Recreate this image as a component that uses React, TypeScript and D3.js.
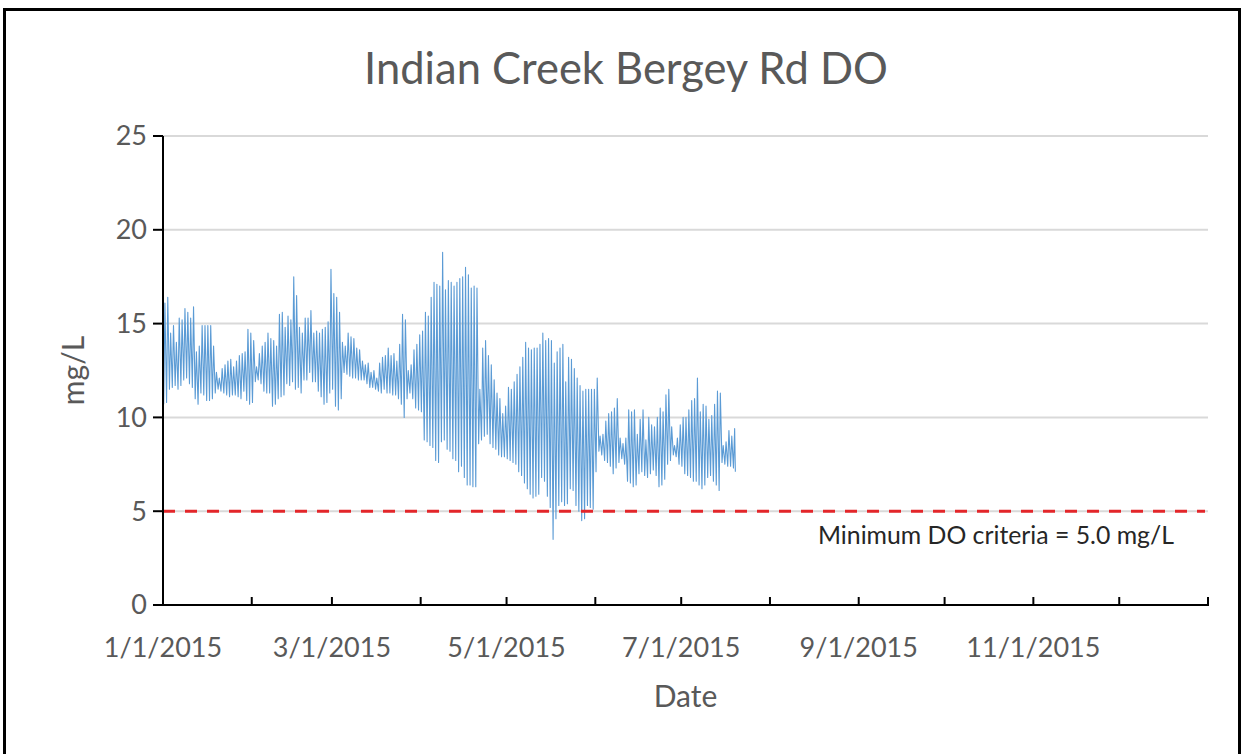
import React from "react";
import * as d3 from "d3";

// Chart text
const TITLE = "Indian Creek Bergey Rd DO";
const Y_TITLE = "mg/L";
const X_TITLE = "Date";
const CRITERIA = 5.0;
const CRITERIA_LABEL = "Minimum DO criteria = 5.0 mg/L";

// Axis ticks
const Y_TICKS = [0, 5, 10, 15, 20, 25];
const X_TICK_LABELS = ["1/1/2015", "3/1/2015", "5/1/2015", "7/1/2015", "9/1/2015", "11/1/2015"];
const X_DOMAIN = ["1/1/2015", "1/1/2016"];

// Continuous sonde record, summarised as one daily minimum and maximum (mg/L),
// starting on 1/1/2015.
const FIRST_DAY = "1/1/2015";
const dailyMin = [
  10.7, 10.8, 11.5, 11.6, 11.7, 11.5, 11.7, 12.0, 12.1, 11.8,
  11.6, 11.0, 10.7, 11.3, 11.2, 10.9, 10.9, 11.0, 11.3, 11.5,
  11.4, 11.3, 11.2, 11.1, 11.2, 11.2, 11.1, 11.0, 11.4, 10.9,
  10.7, 10.8, 11.9, 12.0, 11.8, 11.4, 11.3, 11.3, 10.6, 10.7,
  11.0, 11.1, 11.2, 11.8, 11.7, 11.9, 11.5, 11.6, 11.3, 12.0,
  12.0, 12.4, 11.9, 11.9, 11.4, 11.1, 10.7, 10.8, 11.3, 11.5,
  10.6, 10.4, 11.0, 12.4, 12.3, 12.2, 12.1, 12.1, 12.0, 12.0,
  12.0, 11.8, 11.6, 11.6, 11.5, 11.4, 11.3, 11.5, 11.3, 11.3,
  11.2, 11.2, 11.0, 10.7, 10.0, 11.0, 11.3, 11.0, 10.5, 10.4,
  10.3, 8.8, 8.7, 8.5, 8.4, 7.7, 7.6, 8.7, 8.8, 8.3,
  8.2, 7.8, 7.7, 7.1, 7.4, 6.8, 6.4, 6.4, 6.3, 6.3,
  8.6, 8.8, 9.0, 9.1, 8.6, 8.4, 8.3, 8.0, 7.9, 7.9,
  7.8, 7.7, 7.6, 7.5, 7.1, 6.9, 6.5, 6.2, 5.9, 5.7,
  5.8, 5.9, 6.8, 6.6, 5.8, 5.2, 3.5, 4.6, 5.3, 5.5,
  5.3, 5.4, 6.2, 6.1, 5.3, 5.0, 4.5, 4.6, 5.3, 5.2,
  5.1, 7.1, 8.2, 8.0, 7.7, 7.6, 7.4, 7.0, 7.3, 7.6,
  7.8, 7.5, 6.6, 6.5, 6.3, 6.4, 7.0, 7.1, 6.9, 6.8,
  7.0, 7.2, 6.9, 6.3, 6.4, 6.7, 7.5, 7.7, 8.0, 7.9,
  7.5, 7.4, 7.0, 6.9, 6.8, 6.6, 6.6, 6.4, 6.2, 6.4,
  6.8, 6.9, 6.6, 6.4, 6.1, 7.6, 7.5, 7.4, 7.4, 7.3,
];
const dailyMax = [
  16.1, 16.4, 14.5, 14.9, 14.0, 15.3, 15.2, 15.8, 15.6, 15.3,
  15.9, 13.5, 13.8, 14.9, 14.9, 14.9, 14.9, 13.8, 12.4, 12.1,
  12.6, 12.8, 13.0, 13.1, 12.7, 13.0, 13.3, 13.4, 13.5, 14.7,
  14.5, 14.1, 12.7, 13.4, 13.8, 14.0, 14.5, 14.2, 14.1, 13.8,
  15.5, 15.6, 14.8, 15.4, 15.2, 17.5, 16.5, 14.8, 14.5, 15.3,
  15.3, 15.7, 14.5, 14.6, 14.5, 14.7, 14.8, 15.1, 17.9, 16.6,
  16.4, 15.6, 14.0, 13.8, 14.5, 14.3, 14.2, 13.7, 13.6, 13.0,
  12.8, 12.9, 12.4, 12.5, 12.1, 12.9, 13.2, 13.3, 13.7, 13.3,
  13.4, 13.0, 13.9, 15.5, 15.2, 12.5, 12.8, 13.6, 13.9, 14.4,
  14.6, 15.6, 15.4, 16.4, 17.2, 17.1, 17.0, 18.8, 16.8, 17.3,
  17.2, 17.0, 17.2, 17.4, 17.5, 18.0, 17.6, 16.9, 17.0, 16.9,
  11.5, 13.7, 14.1, 13.3, 12.8, 12.0, 11.3, 11.0, 10.2, 10.6,
  11.6, 11.5, 11.9, 12.3, 12.7, 13.2, 14.0, 13.7, 13.6, 13.7,
  13.7, 13.9, 14.5, 14.1, 14.2, 14.1, 12.9, 13.5, 13.7, 13.9,
  11.9, 13.2, 13.1, 12.6, 12.1, 11.7, 11.4, 11.5, 11.5, 11.5,
  11.5, 12.1, 9.0, 9.1, 9.8, 10.2, 10.3, 10.5, 11.0, 8.9,
  8.6, 8.9, 10.4, 10.3, 10.4, 9.1, 9.9, 10.4, 8.8, 10.0,
  9.6, 9.5, 10.0, 10.5, 10.3, 11.2, 11.5, 9.5, 8.5, 8.9,
  9.6, 10.0, 10.0, 10.4, 10.9, 11.0, 12.1, 10.3, 10.7, 10.6,
  9.9, 10.1, 10.7, 11.4, 11.3, 8.5, 8.7, 9.3, 9.0, 9.4,
];
const LAST_READING = { date: "7/19/2015", hour: 22, value: 7.1 };

// Layout
const WIDTH = 1244;
const HEIGHT = 754;
const PLOT = { left: 163, right: 1208, top: 136, bottom: 605 };
const FONT = "Lato, 'Open Sans', sans-serif";
const TEXT_GRAY = "#595959";

const parseDate = (s: string) => {
  const [m, d, y] = s.split("/").map(Number);
  return new Date(y, m - 1, d);
};

export default function App() {
  const x = d3
    .scaleTime()
    .domain(X_DOMAIN.map(parseDate))
    .range([PLOT.left, PLOT.right]);
  const y = d3.scaleLinear().domain([0, 25]).range([PLOT.bottom, PLOT.top]);

  const start = parseDate(FIRST_DAY);
  const points: [Date, number][] = [];
  dailyMin.forEach((lo, i) => {
    const day = d3.timeDay.offset(start, i);
    points.push([d3.timeHour.offset(day, 6), lo]);
    points.push([d3.timeHour.offset(day, 16), dailyMax[i]]);
  });
  points.push([d3.timeHour.offset(parseDate(LAST_READING.date), LAST_READING.hour), LAST_READING.value]);

  const line = d3
    .line<[Date, number]>()
    .x((p) => x(p[0]))
    .y((p) => y(p[1]));

  const monthTicks = x.ticks(d3.timeMonth.every(1) as d3.TimeInterval);

  return (
    <svg
      width={WIDTH}
      height={HEIGHT}
      style={{ position: "absolute", left: 0, top: 0, background: "#fff" }}
      fontFamily={FONT}
    >
      <rect x={0} y={0} width={WIDTH} height={HEIGHT} fill="#fff" />
      <rect x={4.5} y={9.5} width={1235} height={800} fill="none" stroke="#000" strokeWidth={3} />

      <text x={626} y={84} textAnchor="middle" fontSize={43.5} fill={TEXT_GRAY}>
        {TITLE}
      </text>

      {/* horizontal gridlines */}
      {Y_TICKS.filter((t) => t > 0).map((t) => (
        <line key={t} x1={PLOT.left} x2={PLOT.right} y1={y(t)} y2={y(t)} stroke="#d9d9d9" strokeWidth={2} />
      ))}

      {/* dissolved oxygen record */}
      <path d={line(points) ?? ""} fill="none" stroke="#5b9bd5" strokeWidth={1.1} strokeLinejoin="round" />

      {/* minimum criteria */}
      <line
        x1={PLOT.left}
        x2={PLOT.right - 3}
        y1={y(CRITERIA)}
        y2={y(CRITERIA)}
        stroke="#e3262a"
        strokeWidth={3}
        strokeDasharray="12 10"
      />
      <text x={818} y={544} fontSize={24.8} fill="#262626">
        {CRITERIA_LABEL}
      </text>

      {/* y axis */}
      <line x1={PLOT.left} x2={PLOT.left} y1={PLOT.top} y2={PLOT.bottom} stroke="#000" strokeWidth={2} />
      {Y_TICKS.map((t) => (
        <g key={t}>
          <line x1={PLOT.left - 10} x2={PLOT.left} y1={y(t)} y2={y(t)} stroke="#000" strokeWidth={2} />
          <text x={147} y={y(t)} dy="0.35em" textAnchor="end" fontSize={27} fill={TEXT_GRAY}>
            {t}
          </text>
        </g>
      ))}
      <text transform={`translate(84,${(PLOT.top + PLOT.bottom) / 2}) rotate(-90)`} textAnchor="middle" fontSize={30} fill={TEXT_GRAY}>
        {Y_TITLE}
      </text>

      {/* x axis */}
      <line x1={PLOT.left - 10} x2={PLOT.right + 1} y1={PLOT.bottom} y2={PLOT.bottom} stroke="#000" strokeWidth={2} />
      {monthTicks.map((d) => (
        <line key={+d} x1={x(d)} x2={x(d)} y1={PLOT.bottom} y2={PLOT.bottom - 8} stroke="#000" strokeWidth={2} />
      ))}
      {X_TICK_LABELS.map((lbl) => (
        <text key={lbl} x={x(parseDate(lbl))} y={657} textAnchor="middle" fontSize={27} fill={TEXT_GRAY}>
          {lbl}
        </text>
      ))}
      <text x={(PLOT.left + PLOT.right) / 2} y={707} textAnchor="middle" fontSize={30} fill={TEXT_GRAY}>
        {X_TITLE}
      </text>
    </svg>
  );
}
